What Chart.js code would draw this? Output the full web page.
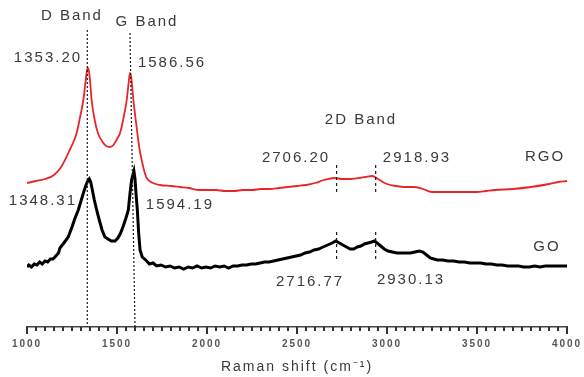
<!DOCTYPE html>
<html>
<head>
<meta charset="utf-8">
<script src="https://cdn.jsdelivr.net/npm/chart.js@4/dist/chart.umd.min.js"></script>
<style>
  html, body { margin: 0; padding: 0; background: #ffffff; }
</style>
</head>
<body>
<canvas id="c" width="584" height="377"></canvas>
<script>
// ---- data (Raman shift in cm^-1, intensity in arbitrary units) ----
const rgoShift = [1000,1050,1100,1150,1190,1211,1240,1260,1276,1295,1313,1325,1333,1338,1344,1351,1359,1375,1394,1420,1440,1461,1480,1500,1517,1535,1554,1564,1572,1580,1591,1602,1613,1625,1637,1650,1665,1700,1739,1800,1850,1900,1950,2000,2050,2100,2150,2200,2250,2300,2350,2400,2450,2500,2550,2600,2650,2706,2750,2800,2850,2880,2918,2950,3000,3050,3100,3150,3200,3250,3300,3400,3500,3550,3600,3700,3800,3900,3950,4000];
const rgoIntensity = [144,146,148,152,160,167,178,186,194,210,227,245,256,259,256,245,227,208,194,185,181,180,182,188,194,208,227,243,254,248,227,210,194,178,167,157,149,144,142,141,140,139,137,137,137,136,136,137,137,138,138,139,140,141,142,144,147,149,148,148,149,150,151,148,143,141,140,140,138,135,135,135,135,136,137,138,140,143,145,146];

const goShift = [1000,1010,1025,1040,1055,1070,1085,1100,1115,1130,1145,1160,1175,1183,1205,1229,1250,1265,1285,1300,1315,1328,1338,1346,1354,1362,1374,1387,1400,1417,1433,1450,1468,1489,1505,1520,1535,1548,1563,1572,1581,1588,1594,1600,1607,1613,1620,1628,1640,1665,1680,1700,1720,1745,1770,1795,1820,1845,1870,1895,1920,1945,1970,1995,2020,2045,2070,2095,2120,2145,2170,2195,2220,2245,2270,2295,2320,2345,2370,2395,2420,2445,2470,2495,2520,2545,2570,2595,2620,2645,2670,2695,2716,2735,2755,2775,2795,2815,2835,2855,2875,2895,2915,2930,2945,2965,2985,3005,3030,3055,3080,3105,3130,3155,3180,3200,3220,3240,3260,3280,3310,3340,3370,3400,3430,3460,3490,3520,3550,3580,3610,3640,3670,3700,3730,3760,3790,3820,3850,3880,3910,3940,3970,4000];
const goIntensity = [60,62,60,63,62,65,63,66,65,68,68,71,74,79,84,90,100,108,117,126,135,142,146,148,145,138,127,117,108,97,90,88,86,86,89,94,101,108,117,133,147,152,156,148,130,117,95,77,70,66,63,64,61,62,60,61,59,60,58,60,59,61,59,60,59,61,60,61,59,61,61,62,62,63,63,64,65,65,66,67,68,69,70,71,72,74,75,77,78,80,82,84,86,84,82,80,78,78,80,81,83,84,85,86,84,81,78,76,75,74,74,74,74,75,76,75,72,69,68,67,67,66,66,65,65,64,64,64,63,63,62,62,61,61,61,60,60,61,60,61,61,61,61,61];

// guide lines (dotted)
const guideDShift = [1335, 1335];
const guideDIntensity = [297, 0];
const guideGShift = [1572, 1600];
const guideGIntensity = [294, 0];
const guide2DShifts = [2720, 2937];
const guide2DRgo = [162, 134];
const guide2DGo = [95, 67];

const majorTicks = [1000, 1500, 2000, 2500, 3000, 3500, 4000];
const axisTitle = 'Raman shift (cm\u207B\u00B9)';

const annotationTexts = ['D Band','G Band','2D Band','1353.20','1586.56','2706.20','2918.93','RGO','1348.31','1594.19','2716.77','2930.13','GO'];
const annotationShift = [1244,1661,2850,1111,1800,2489,3161,3872,1083,1844,2567,3128,3883];
const annotationIntensity = [311,305,207,269,264,169,169,170,126,122,45,47,80];

const pts = (xs, ys) => xs.map((x, i) => ({x: x, y: ys[i]}));
const guide = (data, dash) => ({
  data: data, borderColor: '#1a1a1a', borderWidth: 1.2, borderDash: dash,
  pointRadius: 0, fill: false, tension: 0
});

const datasets = [
  guide(pts(guideDShift, guideDIntensity), [2, 2]),
  guide(pts(guideGShift, guideGIntensity), [2, 2]),
  guide(pts([guide2DShifts[0], guide2DShifts[0]], guide2DRgo), [3, 3]),
  guide(pts([guide2DShifts[1], guide2DShifts[1]], guide2DRgo), [3, 3]),
  guide(pts([guide2DShifts[0], guide2DShifts[0]], guide2DGo), [3, 3]),
  guide(pts([guide2DShifts[1], guide2DShifts[1]], guide2DGo), [3, 3]),
  { label: 'RGO', data: pts(rgoShift, rgoIntensity), borderColor: '#e8262a', borderWidth: 1.8,
    pointRadius: 0, fill: false, cubicInterpolationMode: 'monotone' },
  { label: 'GO', data: pts(goShift, goIntensity), borderColor: '#000000', borderWidth: 3,
    pointRadius: 0, fill: false, tension: 0 }
];

const spacingPlugin = {
  id: 'spacing',
  beforeDraw(chart) { chart.ctx.letterSpacing = '2px'; }
};

const overlayPlugin = {
  id: 'overlay',
  afterDraw(chart) {
    const ctx = chart.ctx;
    const sx = chart.scales.x, sy = chart.scales.y;
    // tick marks at every tick of the x scale, longer at labelled ticks
    ctx.save();
    ctx.fillStyle = '#333333';
    const top = Math.round(chart.chartArea.bottom);
    sx.ticks.forEach(t => {
      const px = Math.round(sx.getPixelForValue(t.value));
      const len = majorTicks.includes(Math.round(t.value)) ? 7 : 4;
      ctx.fillRect(px - 1, top, 2, len);
    });
    ctx.restore();

    ctx.save();
    ctx.letterSpacing = '2px';
    ctx.fillStyle = '#3a3a3a';
    ctx.font = '15px "Liberation Sans", Arial, sans-serif';
    ctx.textAlign = 'center';
    ctx.textBaseline = 'middle';
    annotationTexts.forEach((t, i) => {
      ctx.fillText(t, sx.getPixelForValue(annotationShift[i]) + 1, sy.getPixelForValue(annotationIntensity[i]));
    });
    ctx.restore();
  }
};

new Chart(document.getElementById('c'), {
  type: 'line',
  data: { datasets: datasets },
  options: {
    responsive: false,
    animation: false,
    layout: { padding: { left: 27, right: 17, top: 7, bottom: 0 } },
    plugins: { legend: { display: false }, tooltip: { enabled: false } },
    scales: {
      x: {
        type: 'linear', min: 1000, max: 4000,
        afterFit(scale) { scale.height = 50; scale.paddingLeft = 0; scale.paddingRight = 0; },
        grid: { display: false, drawTicks: false },
        border: { display: true, color: '#444', width: 1.5 },
        ticks: {
          stepSize: 50, autoSkip: false, maxRotation: 0, padding: 11,
          color: '#555',
          font: { family: '"Liberation Sans", Arial, sans-serif', size: 10, weight: 'bold' },
          callback: (v) => majorTicks.includes(v) ? String(v) : ''
        },
        title: {
          display: true, text: axisTitle, color: '#3a3a3a',
          font: { family: '"Liberation Sans", Arial, sans-serif', size: 14 },
          padding: { top: 0, bottom: 1 }
        }
      },
      y: { type: 'linear', display: false, min: 0, max: 320 }
    }
  },
  plugins: [spacingPlugin, overlayPlugin]
});
</script>
</body>
</html>
